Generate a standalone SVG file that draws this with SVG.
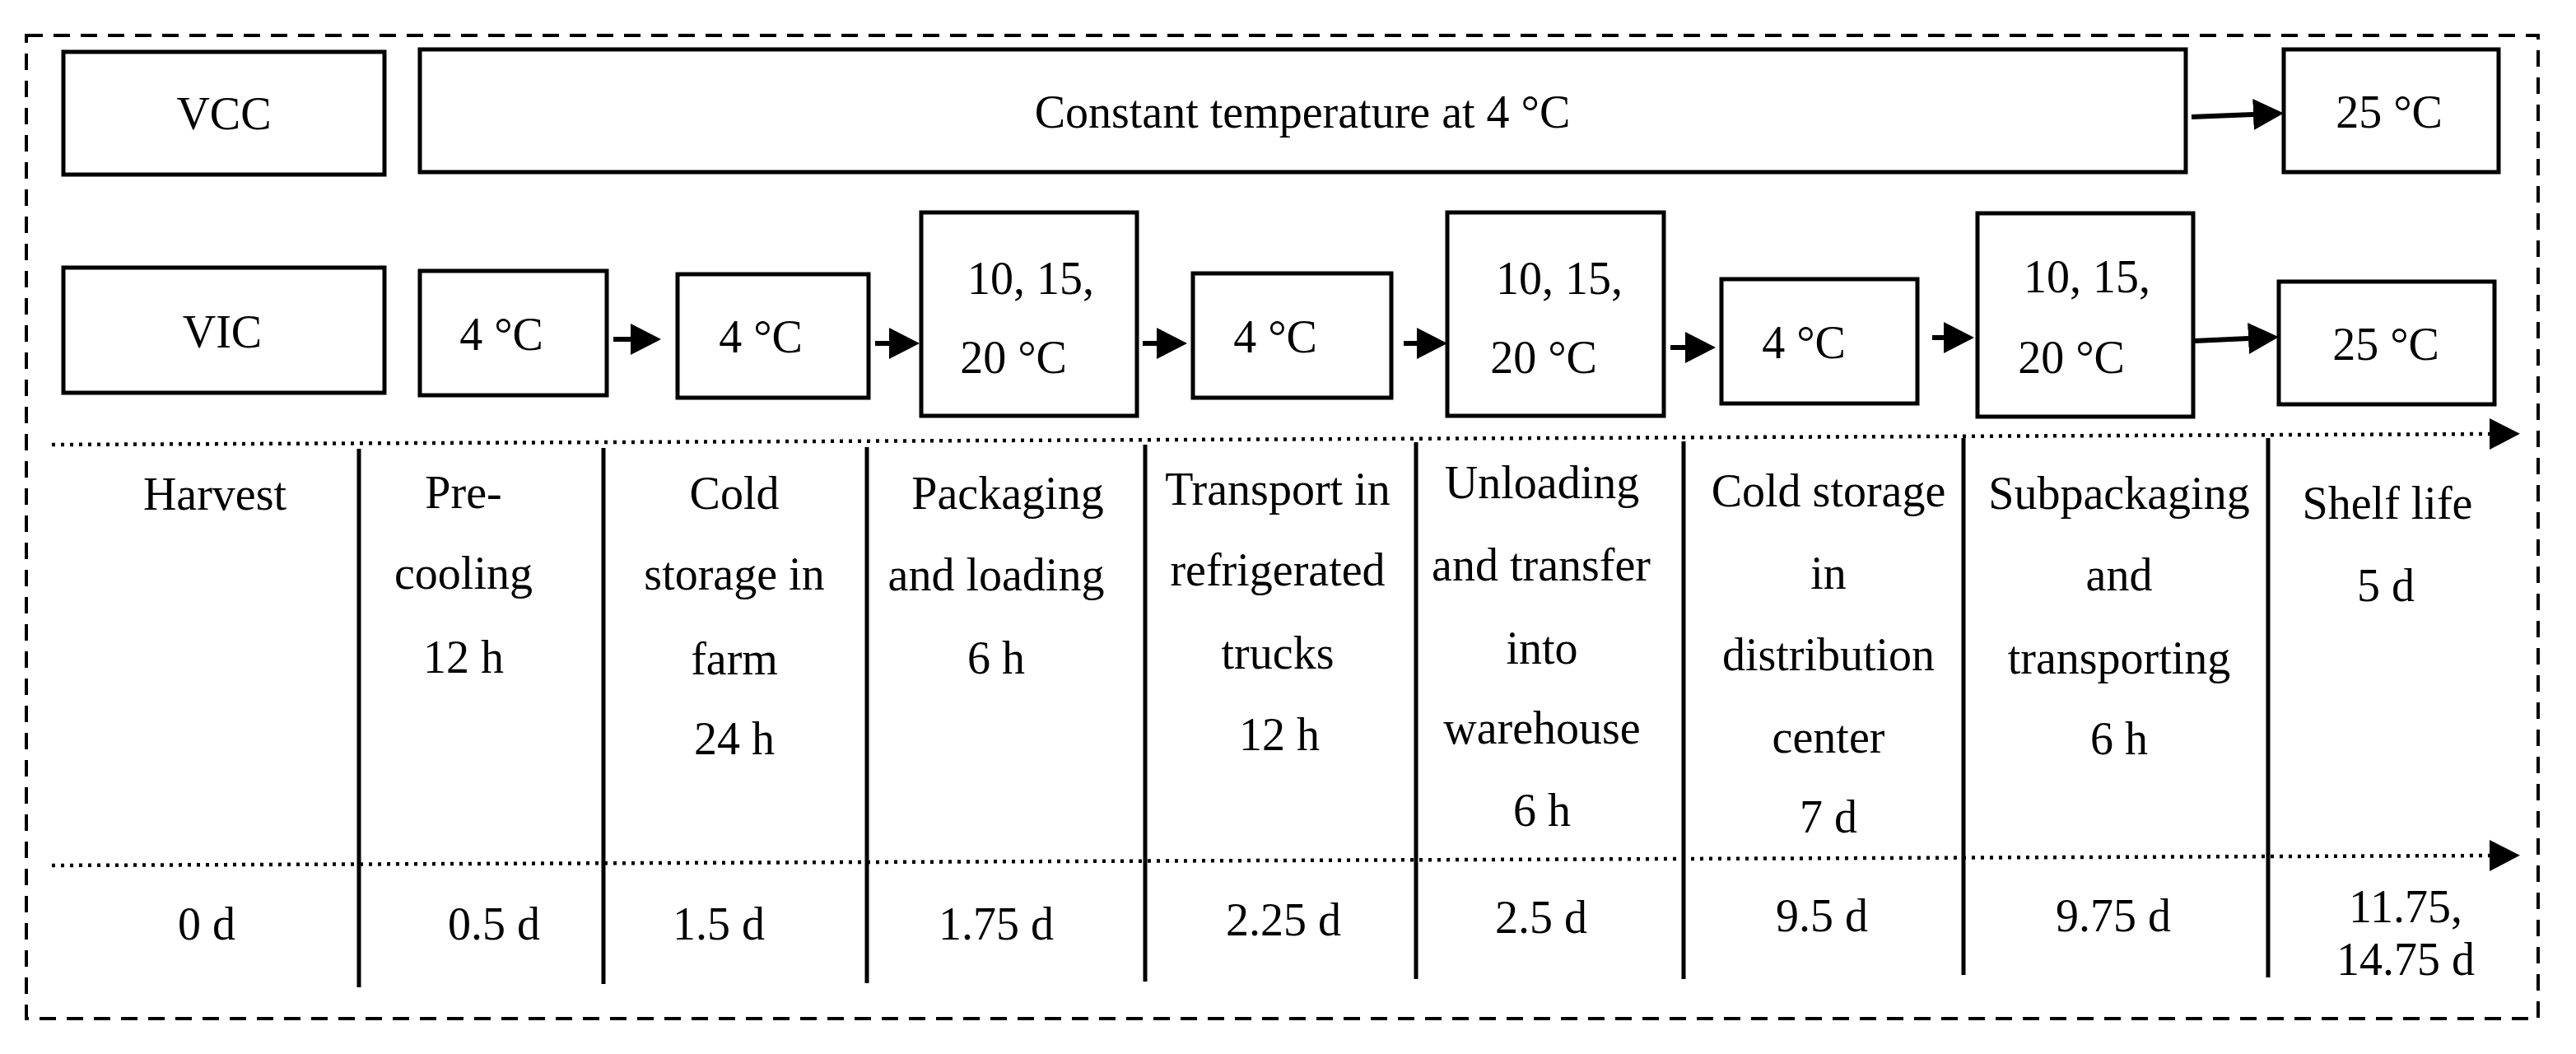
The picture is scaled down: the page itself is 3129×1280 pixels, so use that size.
<svg xmlns="http://www.w3.org/2000/svg" width="3129" height="1280" viewBox="0 0 3129 1280">
<style>
.box{fill:#fff;stroke:#000;stroke-width:5}
.t{font-family:"Liberation Serif","Times New Roman",serif;font-size:56px;fill:#000;text-anchor:middle}
.arr{stroke:#000;stroke-width:6;fill:none;marker-end:url(#ah)}
.dot{stroke:#000;stroke-width:4.5;stroke-dasharray:4 7;fill:none;marker-end:url(#ah)}
.div{stroke:#000;stroke-width:5}
</style>
<defs>
<marker id="ah" markerUnits="userSpaceOnUse" markerWidth="37" markerHeight="38" viewBox="0 0 37 38" refX="0" refY="19" orient="auto">
<path d="M0,0 L37,19 L0,38 Z" fill="#000"/>
</marker>
</defs>
<rect x="0" y="0" width="3129" height="1280" fill="#fff"/>
<rect id="frame" x="32" y="43" width="3051" height="1194" fill="none" stroke="#000" stroke-width="4" stroke-dasharray="20 13"/>

<g id="vcc"><rect class="box" x="77" y="63" width="390" height="149"/><text class="t" x="272" y="157">VCC</text></g>
<g id="vcc-constant"><rect class="box" x="510" y="60" width="2145" height="149"/><text class="t" x="1582" y="155">Constant temperature at 4 °C</text></g>
<g id="vcc-25"><rect class="box" x="2774" y="60" width="261" height="149"/><text class="t" x="2902" y="155">25 °C</text></g>

<g id="vic"><rect class="box" x="77" y="325" width="390" height="152"/><text class="t" x="270" y="422">VIC</text></g>
<g id="vic-4-1"><rect class="box" x="510" y="329" width="227" height="151"/><text class="t" x="609" y="425">4 °C</text></g>
<g id="vic-4-2"><rect class="box" x="823" y="333" width="232" height="150"/><text class="t" x="924" y="428">4 °C</text></g>
<g id="vic-var-1"><rect class="box" x="1119" y="258" width="262" height="247"/><text class="t" x="1252" y="357">10,  15,</text><text class="t" x="1231" y="453">20 °C</text></g>
<g id="vic-4-3"><rect class="box" x="1449" y="332" width="241" height="151"/><text class="t" x="1549" y="428">4 °C</text></g>
<g id="vic-var-2"><rect class="box" x="1758" y="258" width="263" height="247"/><text class="t" x="1894" y="357">10,  15,</text><text class="t" x="1875" y="453">20 °C</text></g>
<g id="vic-4-4"><rect class="box" x="2091" y="339" width="238" height="151"/><text class="t" x="2191" y="435">4 °C</text></g>
<g id="vic-var-3"><rect class="box" x="2402" y="259" width="262" height="247"/><text class="t" x="2535" y="355">10,  15,</text><text class="t" x="2516" y="453">20 °C</text></g>
<g id="vic-25"><rect class="box" x="2768" y="342" width="262" height="149"/><text class="t" x="2898" y="437">25 °C</text></g>

<g id="connectors">
<line class="arr" x1="2662" y1="142" x2="2737" y2="139"/>
<line class="arr" x1="745" y1="412" x2="766" y2="412"/>
<line class="arr" x1="1063" y1="417" x2="1080" y2="417"/>
<line class="arr" x1="1388" y1="417" x2="1405" y2="417"/>
<line class="arr" x1="1705" y1="417" x2="1721" y2="417"/>
<line class="arr" x1="2029" y1="422" x2="2047" y2="422"/>
<line class="arr" x1="2347" y1="410" x2="2361" y2="410"/>
<line class="arr" x1="2666" y1="414" x2="2731" y2="411"/>
<line class="dot" x1="63" y1="540" x2="3024" y2="527"/>
<line class="dot" x1="63" y1="1051" x2="3024" y2="1039"/>
<line class="div" x1="436" y1="545" x2="436" y2="1199"/>
<line class="div" x1="733" y1="544" x2="733" y2="1195"/>
<line class="div" x1="1053" y1="543" x2="1053" y2="1194"/>
<line class="div" x1="1391" y1="540" x2="1391" y2="1192"/>
<line class="div" x1="1720" y1="537" x2="1720" y2="1189"/>
<line class="div" x1="2045" y1="536" x2="2045" y2="1189"/>
<line class="div" x1="2385" y1="532" x2="2385" y2="1184"/>
<line class="div" x1="2755" y1="532" x2="2755" y2="1187"/>
</g>

<g id="stage-harvest"><text class="t" x="261" y="619">Harvest</text><text class="t" x="251" y="1141">0 d</text></g>
<g id="stage-precooling"><text class="t" x="563" y="617">Pre-</text><text class="t" x="563" y="715">cooling</text><text class="t" x="563" y="817">12 h</text><text class="t" x="600" y="1141">0.5 d</text></g>
<g id="stage-coldfarm"><text class="t" x="892" y="618">Cold</text><text class="t" x="892" y="716">storage in</text><text class="t" x="892" y="819">farm</text><text class="t" x="892" y="916">24 h</text><text class="t" x="873" y="1141">1.5 d</text></g>
<g id="stage-packaging"><text class="t" x="1224" y="618">Packaging</text><text class="t" x="1210" y="717">and loading</text><text class="t" x="1210" y="818">6 h</text><text class="t" x="1210" y="1141">1.75 d</text></g>
<g id="stage-transport"><text class="t" x="1552" y="613">Transport in</text><text class="t" x="1552" y="711">refrigerated</text><text class="t" x="1552" y="812">trucks</text><text class="t" x="1554" y="911">12 h</text><text class="t" x="1559" y="1136">2.25 d</text></g>
<g id="stage-unloading"><text class="t" x="1873" y="605">Unloading</text><text class="t" x="1872" y="705">and transfer</text><text class="t" x="1873" y="806">into</text><text class="t" x="1873" y="903">warehouse</text><text class="t" x="1873" y="1003">6 h</text><text class="t" x="1872" y="1133">2.5 d</text></g>
<g id="stage-colddist"><text class="t" x="2221" y="615">Cold storage</text><text class="t" x="2221" y="715">in</text><text class="t" x="2221" y="814">distribution</text><text class="t" x="2221" y="914">center</text><text class="t" x="2221" y="1011">7 d</text><text class="t" x="2213" y="1131">9.5 d</text></g>
<g id="stage-subpack"><text class="t" x="2574" y="618">Subpackaging</text><text class="t" x="2574" y="717">and</text><text class="t" x="2574" y="818">transporting</text><text class="t" x="2574" y="916">6 h</text><text class="t" x="2567" y="1131">9.75 d</text></g>
<g id="stage-shelf"><text class="t" x="2900" y="630">Shelf life</text><text class="t" x="2898" y="730">5 d</text><text class="t" x="2922" y="1120">11.75,</text><text class="t" x="2922" y="1184">14.75 d</text></g>
</svg>
